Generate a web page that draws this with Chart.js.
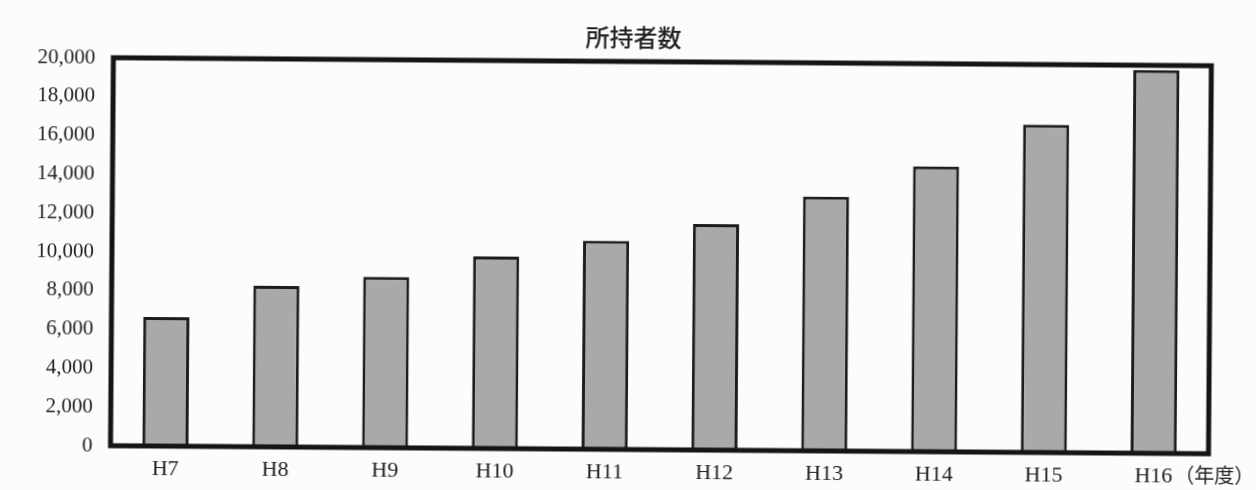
<!DOCTYPE html>
<html lang="ja">
<head>
<meta charset="utf-8">
<title>所持者数</title>
<script src="https://cdn.jsdelivr.net/npm/chart.js@4/dist/chart.umd.min.js"></script>
<style>
  html, body { margin: 0; padding: 0; background: #fcfcfc; overflow: hidden; }
  #wrap { width: 1256px; height: 490px; position: relative; }
  canvas { display: block; transform: translateY(1.5px) rotate(0.42deg); transform-origin: 50% 50%; }
</style>
</head>
<body>
<div id="wrap"><canvas id="c" width="1256" height="490"></canvas></div>
<script>
// 年度別の所持者数
const categories = ['H7', 'H8', 'H9', 'H10', 'H11', 'H12', 'H13', 'H14', 'H15', 'H16'];
const holders = [6650, 8300, 8800, 9900, 10750, 11650, 13100, 14700, 16900, 19750];
const yTicks = [0, 2000, 4000, 6000, 8000, 10000, 12000, 14000, 16000, 18000, 20000];
const chartTitle = '所持者数';
const unitLabel = '（年度）';

const serif = '"Liberation Serif", "DejaVu Serif", serif';
const gothic = '"Noto Sans CJK JP", "Noto Sans", sans-serif';

// 枠線・タイトル・単位ラベルを描くプラグイン
const framePlugin = {
  id: 'frame',
  afterDatasetsDraw(chart) {
    const { ctx, chartArea: a } = chart;
    ctx.save();
    ctx.strokeStyle = '#151515';
    ctx.lineWidth = 5;
    ctx.strokeRect(a.left, a.top, a.right - a.left, a.bottom - a.top);
    ctx.restore();
  },
  afterDraw(chart) {
    const { ctx, chartArea: a } = chart;
    ctx.save();
    ctx.fillStyle = '#222';
    ctx.font = '500 24px ' + gothic;
    ctx.textAlign = 'center';
    ctx.textBaseline = 'middle';
    ctx.fillText(chartTitle, 632, 36);
    ctx.font = '20px ' + gothic;
    ctx.textAlign = 'left';
    ctx.fillText(unitLabel, a.right - 34, 469);
    ctx.restore();
  }
};

new Chart(document.getElementById('c'), {
  type: 'bar',
  data: {
    labels: categories,
    datasets: [{
      data: holders,
      backgroundColor: '#a9a9a9',
      borderColor: '#1c1c1c',
      borderWidth: 3,
      borderSkipped: 'bottom',
      barPercentage: 0.84,
      categoryPercentage: 0.5
    }]
  },
  options: {
    responsive: false,
    animation: false,
    layout: { padding: { left: 0, right: 46, top: 60, bottom: 0 } },
    plugins: {
      legend: { display: false },
      title: { display: false },
      tooltip: { enabled: false }
    },
    scales: {
      x: {
        grid: { display: false, drawTicks: false },
        border: { display: false },
        ticks: { color: '#222', font: { family: serif, size: 22 }, padding: 10 },
        afterFit(scale) { scale.height = 42; }
      },
      y: {
        min: 0,
        max: 20000,
        grid: { display: false, drawTicks: false },
        border: { display: false },
        afterBuildTicks(scale) { scale.ticks = yTicks.map(v => ({ value: v })); },
        ticks: {
          color: '#222',
          font: { family: serif, size: 21 },
          padding: 18,
          callback: v => v.toLocaleString('en-US')
        },
        afterFit(scale) { scale.width = 112; }
      }
    }
  },
  plugins: [framePlugin]
});
</script>
</body>
</html>
